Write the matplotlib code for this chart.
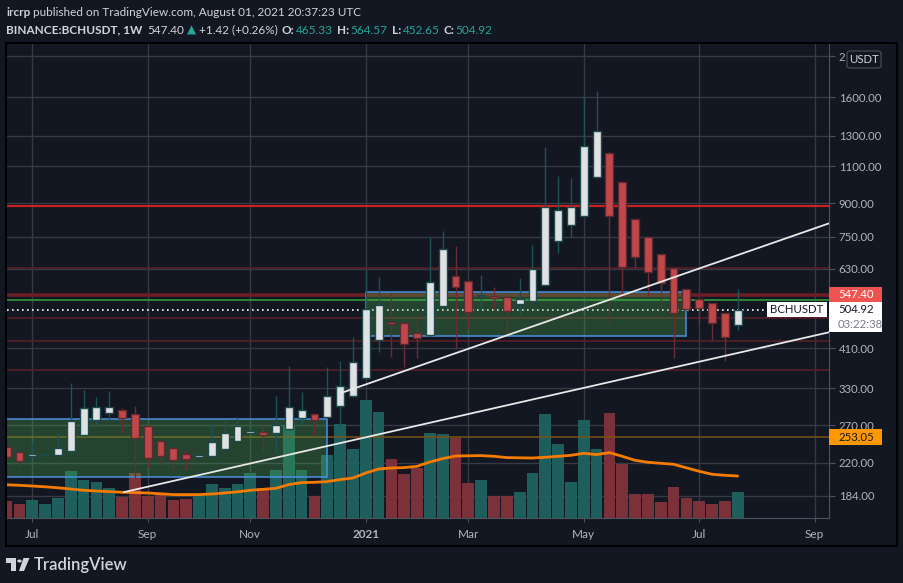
import matplotlib
matplotlib.use('Agg')
import matplotlib.pyplot as plt
import matplotlib.dates as mdates
import matplotlib.transforms as mtransforms
from matplotlib.patches import Rectangle, FancyBboxPatch, Polygon, Circle
from matplotlib.ticker import NullLocator, NullFormatter
import pandas as pd

plt.rcParams['font.family'] = ['Lato', 'DejaVu Sans']

# weekly Heikin Ashi candles, BINANCE:BCHUSDT 1W
weeks = pd.date_range('2020-06-22', periods=58, freq='W-MON')
ha_open = [240, 233, 228, 229.5, 230, 234, 256, 277, 288, 293, 287, 269, 247.5, 238, 230.5, 227.6,
           228.5, 237.6, 248.3, 258.2, 260, 258, 263.8, 281, 287, 282.3, 299, 316.3, 348.5, 427.8,
           473.4, 470.2, 444.8, 439.4, 514, 607.7, 589, 543.5, 544.3, 540.9, 521.7, 529, 579, 731.5,
           798.8, 839.6, 1035.3, 1184.7, 1012.3, 825, 748.2, 684.6, 634, 564.8, 535.9, 522.5, 495.7, 465.33]
ha_close = [227, 222, 231, 230.3, 238.5, 276.5, 297, 298.5, 298, 280.5, 251.5, 226, 228.3, 223.4, 224.7,
            229.5, 246.7, 259, 268, 261.6, 256, 269.5, 298.5, 293, 277.5, 315.6, 333.5, 380.6, 507, 519,
            467, 419.4, 434, 588.5, 701.5, 570.6, 498, 545, 537.5, 502.5, 536.4, 629, 884, 866, 880.5,
            1231, 1334, 840, 638, 671.4, 621, 583.5, 495.5, 507, 509, 469, 435, 504.92]
ha_high = [241, 234, 246, 232, 258, 339, 326.5, 314, 325, 297, 300, 270, 248, 238.5, 236, 230, 272.6,
           277.5, 282.6, 262, 275.5, 315.6, 372, 323, 288, 369.6, 382, 435, 626, 604, 553.5, 472, 488,
           748, 774.5, 714, 590, 609.6, 571, 541, 599, 716, 1224, 1044, 1034.6, 1605, 1656, 1186, 1013,
           826, 749, 685, 635, 565.5, 536.5, 523, 496, 564.57]
ha_low = [226, 214.7, 226, 228, 229, 233, 255, 269, 275, 258, 201, 215.4, 218.5, 213, 212, 226, 228,
          237, 247, 257, 234.7, 232, 263, 270.5, 255, 281, 268, 315, 347, 401, 391.5, 369.6, 389.6,
          438, 512, 408, 454.6, 506, 505, 440.5, 489.6, 528, 578, 686, 750, 838, 1034, 469, 537,
          632.6, 542, 513.5, 388, 505, 470.6, 428.6, 383, 452.65]
volume = [167, 137, 177, 137, 197, 467, 377, 357, 297, 210, 447, 220, 237, 177, 187, 230, 337, 297,
          337, 447, 297, 477, 927, 477, 220, 627, 937, 687, 1177, 1057, 587, 437, 500, 847, 837, 797,
          347, 377, 220, 220, 257, 447, 1037, 737, 357, 977, 687, 1047, 537, 237, 237, 157, 307, 197,
          167, 137, 167, 257]
vol_ma = [332, 327, 320, 312, 302, 290, 277, 270, 264, 257, 254, 250, 242, 234, 234, 234, 240, 250,
          262, 277, 287, 297, 334, 354, 357, 364, 384, 400, 450, 490, 500, 504, 517, 560, 594, 620,
          622, 624, 617, 604, 602, 600, 607, 617, 627, 647, 634, 654, 617, 577, 557, 547, 537, 502,
          467, 437, 427, 420]

# drawings
hlines = [(885, '#c62222', 1.6, '-'), (632.6, '#5e1f27', 1.1, '-'), (547.40, '#6b1e25', 2.6, '-'),
          (532.6, '#2f8f3a', 1.3, '-'), (482, '#5e1f27', 1.1, '-'), (426, '#5e1f27', 1.1, '-'),
          (363.6, '#5e1f27', 1.1, '-'), (253.05, '#7a5216', 1.1, '-')]
last_price = 504.92
boxes = [('2020-05-01', '2020-12-14', 204, 278.6), ('2021-01-04', '2021-06-28', 438.6, 555.4)]
trend_lower = (['2020-08-25', '2021-09-14'], [187.7, 447])
trend_upper = (['2020-12-21', '2021-09-14'], [320.8, 807.5])

price_ticks = [184, 220, 270, 330, 410, 630, 750, 900, 1100, 1300, 1600, 2000]
month_ticks = ['2020-07-06', '2020-09-07', '2020-11-02', '2021-01-04', '2021-03-01', '2021-05-03',
               '2021-07-05', '2021-09-06']
month_labels = ['Jul', 'Sep', 'Nov', '2021', 'Mar', 'May', 'Jul', 'Sep']

BG = '#131722'
GRID = '#363a45'
TXT = '#b2b5be'
W, H = 904, 583


def fx(x):
    return x / W


def fy(y):
    return 1 - y / H


fig = plt.figure(figsize=(W / 100, H / 100), dpi=100, facecolor=BG)
ax = fig.add_axes([fx(7), fy(518), fx(829) - fx(7), fy(43.5) - fy(518)])
ax.set_facecolor(BG)
ax.set_yscale('log')

xs = mdates.date2num(weeks.to_pydatetime())
base = mdates.date2num(pd.Timestamp('2020-07-06').to_pydatetime())
ax.set_xlim(base - 13.8, base + 434.84)
ax.set_ylim(163.1, 2142)
ax.set_autoscale_on(False)

# volume pane (same area, linear units)
vol_tr = mtransforms.blended_transform_factory(
    ax.transData, mtransforms.Affine2D().scale(1, 1 / 4745) + ax.transAxes)
up = [c >= o for o, c in zip(ha_open, ha_close)]
vcol = ['#1e5e5c' if u else '#7a3139' for u in up]
ax.bar(xs, volume, width=6.4, bottom=0, color=vcol, transform=vol_tr, zorder=1, linewidth=0)
ax.plot(xs, vol_ma, color='#f57c00', lw=2, transform=vol_tr, zorder=1.5, solid_capstyle='round')

# horizontal lines
for p, c, lw, ls in hlines:
    ax.axhline(p, color=c, lw=lw, ls=ls, zorder=2)
ax.axhline(last_price, color='white', lw=1.2, ls=(0, (1, 2)), zorder=2, xmax=(765 - 7) / 822)

# rectangles
for d0, d1, p0, p1 in boxes:
    x0 = mdates.date2num(pd.Timestamp(d0).to_pydatetime())
    x1 = mdates.date2num(pd.Timestamp(d1).to_pydatetime())
    ax.add_patch(Rectangle((x0, p0), x1 - x0, p1 - p0, facecolor='#4caf50', alpha=0.3,
                           edgecolor='none', zorder=2.5))
    ax.add_patch(Rectangle((x0, p0), x1 - x0, p1 - p0, facecolor='none',
                           edgecolor='#4a90e2', lw=1.1, zorder=2.6))

# candles
wick_col = ['#1f5254' if u else '#6b2c33' for u in up]
body_col = ['#dfe1e3' if u else '#c0484a' for u in up]
edge_col = ['#1d4a4c' if u else '#5c2a30' for u in up]
ax.vlines(xs, ha_low, ha_high, colors=wick_col, lw=1, zorder=3)
bottoms = [min(o, c) for o, c in zip(ha_open, ha_close)]
heights = [max(abs(c - o), o * 0.004) for o, c in zip(ha_open, ha_close)]
ax.bar(xs, heights, bottom=bottoms, width=4.3, color=body_col, edgecolor=edge_col,
       linewidth=1, zorder=4)

# trend lines
for dts, ps in (trend_lower, trend_upper):
    tx = mdates.date2num(pd.to_datetime(dts).to_pydatetime())
    ax.plot(tx, ps, color='#e8e8e8', lw=1.3, zorder=5)

# axes styling
ax.set_axisbelow(True)
ax.grid(True, color=GRID, lw=1)
for s in ('top', 'left'):
    ax.spines[s].set_visible(False)
for s in ('right', 'bottom'):
    ax.spines[s].set_color('#4c525e')
ax.yaxis.tick_right()
ax.set_yticks(price_ticks)
# the 2000.00 label sits under the USDT box, only its first digit shows
ax.set_yticklabels([f'{v:.2f}' if v < 2000 else '2' for v in price_ticks])
ax.yaxis.set_minor_locator(NullLocator())
ax.yaxis.set_minor_formatter(NullFormatter())
ax.set_xticks(mdates.date2num(pd.to_datetime(month_ticks).to_pydatetime()))
ax.set_xticklabels(month_labels)
ax.tick_params(axis='y', colors='#4c525e', labelcolor=TXT, length=4, pad=3, labelsize=8.2)
ax.tick_params(axis='x', colors='#4c525e', labelcolor=TXT, length=3, pad=5, labelsize=8.5)
for lab in ax.get_xticklabels():
    if lab.get_text() == '2021':
        lab.set_fontweight('bold')

# frame
fig.add_artist(Rectangle((fx(6), fy(546)), fx(897) - fx(6), fy(43) - fy(546), transform=fig.transFigure,
                         fill=False, edgecolor='#000000', lw=1.5))


def ypix(price):
    return H - ax.transData.transform((0, price))[1]


def tag(price, text, fc, tc, top=8, bottom=8):
    yc = ypix(price)
    fig.add_artist(Rectangle((fx(829), fy(yc + bottom)), fx(882) - fx(829), (top + bottom) / H,
                             transform=fig.transFigure, facecolor=fc, edgecolor='none', zorder=10))
    fig.text(fx(838), fy(yc), text, color=tc, fontsize=8.2, va='center', ha='left', zorder=11)
    return yc


tag(547.40, '547.40', '#ef5350', 'white')
tag(253.05, '253.05', '#ff9800', '#131722')
yc = tag(last_price, '504.92', 'white', '#131722', top=8, bottom=22.5)
fig.text(fx(838), fy(yc + 15), '03:22:38', color='#787b86', fontsize=8.2, va='center', zorder=11)
fig.add_artist(Rectangle((fx(767), fy(yc + 7.5)), fx(827) - fx(767), 15 / H, transform=fig.transFigure,
                         facecolor='white', edgecolor='none', zorder=10))
fig.text(fx(797), fy(yc), 'BCHUSDT', color='#131722', fontsize=8.2, va='center', ha='center', zorder=11)

# USDT box
fig.add_artist(FancyBboxPatch((fx(847), fy(68)), fx(881) - fx(847), 17 / H,
                              boxstyle='round,pad=0,rounding_size=0.004', transform=fig.transFigure,
                              facecolor=BG, edgecolor='#434651', lw=1, zorder=10))
fig.text(fx(864), fy(59.5), 'USDT', color='#d1d4dc', fontsize=8.2, va='center', ha='center', zorder=11)

# header
HC = '#d1d4dc'
TEAL = '#26a69a'
renderer = fig.canvas.get_renderer()


def chain(parts, x, y):
    for text, gap, c, w in parts:
        x += gap
        t = fig.text(fx(x), fy(y), text, color=c, fontsize=8.5, fontweight=w, va='center')
        x = t.get_window_extent(renderer).x1


chain([('ircrp', 0, HC, 'bold'),
       ('published on TradingView.com, August 01, 2021 20:37:23 UTC', 3, HC, 'normal')], 6, 13)
chain([('BINANCE:BCHUSDT, 1W', 0, HC, 'bold'), ('547.40', 5, HC, 'normal'),
       ('\u25b2', 3, TEAL, 'normal'), ('+1.42 (+0.26%)', 3, HC, 'normal'),
       ('O:', 4, HC, 'bold'), ('465.33', 1.5, TEAL, 'normal'),
       ('H:', 4, HC, 'bold'), ('564.57', 1.5, TEAL, 'normal'),
       ('L:', 4, HC, 'bold'), ('452.65', 1.5, TEAL, 'normal'),
       ('C:', 4, HC, 'bold'), ('504.92', 1.5, TEAL, 'normal')], 6, 30)

# footer logo
LOGO = '#d1d4dc'
fig.add_artist(Polygon([(fx(6), fy(558)), (fx(16), fy(558)), (fx(16), fy(571)), (fx(11), fy(571)),
                        (fx(11), fy(562.5)), (fx(6), fy(562.5))], closed=True,
                       transform=fig.transFigure, facecolor=LOGO, edgecolor='none'))
fig.add_artist(Circle((fx(19.5), fy(561)), 2.3 / W, transform=fig.transFigure, facecolor=LOGO,
                      edgecolor='none'))
fig.add_artist(Polygon([(fx(23.5), fy(558)), (fx(29.5), fy(558)), (fx(24), fy(571)), (fx(19), fy(571))],
                       closed=True, transform=fig.transFigure, facecolor=LOGO, edgecolor='none'))
fig.text(fx(34), fy(565), 'TradingView', color=LOGO, fontsize=12, fontweight='semibold', va='center')

fig.savefig('out.png', dpi=100, facecolor=BG)
